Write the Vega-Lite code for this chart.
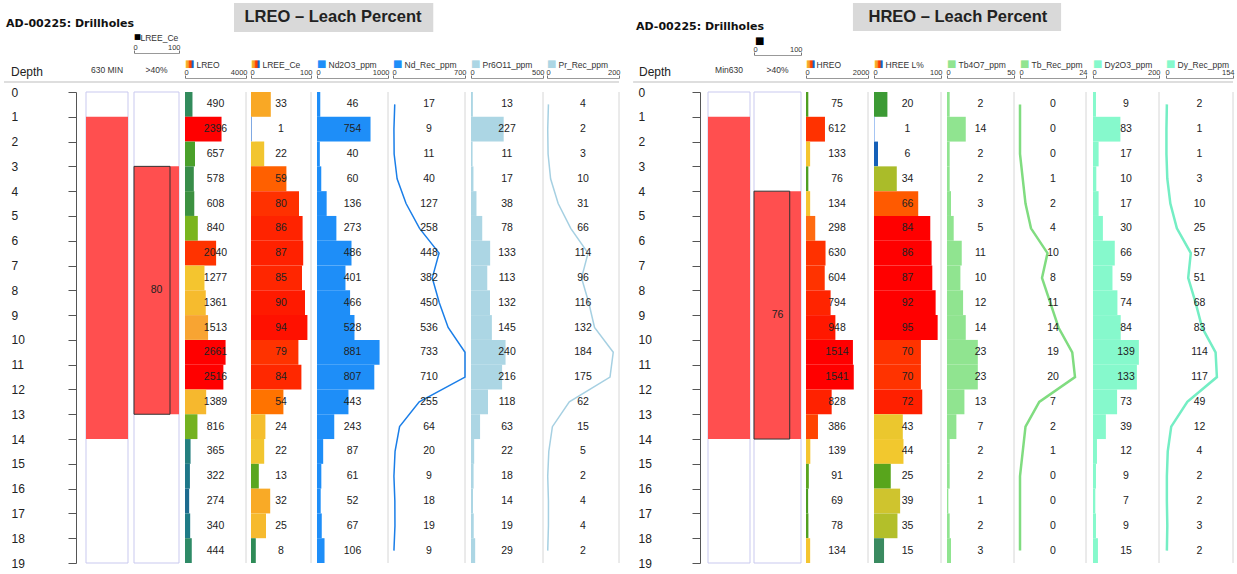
{
  "$schema": "https://vega.github.io/schema/vega-lite/v6.json",
  "padding": {"left": 3, "top": 3, "right": 5, "bottom": 5},
  "background": "white",
  "spacing": 0,
  "bounds": "flush",
  "resolve": {"scale": {"color": "independent"}},
  "config": {
    "view": {"stroke": null},
    "axisLeft": {"labelOverlap": false, "labelSeparation": 0},
    "axisTop": {
      "labelFlush": true, "labelFlushOffset": 1, "tickSize": 3, "tickColor": "#777", "domainColor": "#999",
      "labelPadding": -1, "labelFontSize": 7.5, "labelColor": "#333", "labelFont": "Liberation Sans", "grid": false,
      "titleFont": "Liberation Sans", "titleFontSize": 8.5, "titleFontWeight": "normal", "titleColor": "#333",
      "titleAnchor": "start", "titleAlign": "left", "titleBaseline": "middle"
    }
  },
  "datasets": {
    "lreo": [
      {"from": 0, "to": 1, "mid": 0.5, "LREO": 490, "LREE_Ce": 33, "Nd2O3_ppm": 46, "Nd_Rec_ppm": 17, "Pr6O11_ppm": 13, "Pr_Rec_ppm": 4},
      {"from": 1, "to": 2, "mid": 1.5, "LREO": 2396, "LREE_Ce": 1, "Nd2O3_ppm": 754, "Nd_Rec_ppm": 9, "Pr6O11_ppm": 227, "Pr_Rec_ppm": 2},
      {"from": 2, "to": 3, "mid": 2.5, "LREO": 657, "LREE_Ce": 22, "Nd2O3_ppm": 40, "Nd_Rec_ppm": 11, "Pr6O11_ppm": 11, "Pr_Rec_ppm": 3},
      {"from": 3, "to": 4, "mid": 3.5, "LREO": 578, "LREE_Ce": 59, "Nd2O3_ppm": 60, "Nd_Rec_ppm": 40, "Pr6O11_ppm": 17, "Pr_Rec_ppm": 10},
      {"from": 4, "to": 5, "mid": 4.5, "LREO": 608, "LREE_Ce": 80, "Nd2O3_ppm": 136, "Nd_Rec_ppm": 127, "Pr6O11_ppm": 38, "Pr_Rec_ppm": 31},
      {"from": 5, "to": 6, "mid": 5.5, "LREO": 840, "LREE_Ce": 86, "Nd2O3_ppm": 273, "Nd_Rec_ppm": 258, "Pr6O11_ppm": 78, "Pr_Rec_ppm": 66},
      {"from": 6, "to": 7, "mid": 6.5, "LREO": 2040, "LREE_Ce": 87, "Nd2O3_ppm": 486, "Nd_Rec_ppm": 448, "Pr6O11_ppm": 133, "Pr_Rec_ppm": 114},
      {"from": 7, "to": 8, "mid": 7.5, "LREO": 1277, "LREE_Ce": 85, "Nd2O3_ppm": 401, "Nd_Rec_ppm": 382, "Pr6O11_ppm": 113, "Pr_Rec_ppm": 96},
      {"from": 8, "to": 9, "mid": 8.5, "LREO": 1361, "LREE_Ce": 90, "Nd2O3_ppm": 466, "Nd_Rec_ppm": 450, "Pr6O11_ppm": 132, "Pr_Rec_ppm": 116},
      {"from": 9, "to": 10, "mid": 9.5, "LREO": 1513, "LREE_Ce": 94, "Nd2O3_ppm": 528, "Nd_Rec_ppm": 536, "Pr6O11_ppm": 145, "Pr_Rec_ppm": 132},
      {"from": 10, "to": 11, "mid": 10.5, "LREO": 2661, "LREE_Ce": 79, "Nd2O3_ppm": 881, "Nd_Rec_ppm": 733, "Pr6O11_ppm": 240, "Pr_Rec_ppm": 184},
      {"from": 11, "to": 12, "mid": 11.5, "LREO": 2516, "LREE_Ce": 84, "Nd2O3_ppm": 807, "Nd_Rec_ppm": 710, "Pr6O11_ppm": 216, "Pr_Rec_ppm": 175},
      {"from": 12, "to": 13, "mid": 12.5, "LREO": 1389, "LREE_Ce": 54, "Nd2O3_ppm": 443, "Nd_Rec_ppm": 255, "Pr6O11_ppm": 118, "Pr_Rec_ppm": 62},
      {"from": 13, "to": 14, "mid": 13.5, "LREO": 816, "LREE_Ce": 24, "Nd2O3_ppm": 243, "Nd_Rec_ppm": 64, "Pr6O11_ppm": 63, "Pr_Rec_ppm": 15},
      {"from": 14, "to": 15, "mid": 14.5, "LREO": 365, "LREE_Ce": 22, "Nd2O3_ppm": 87, "Nd_Rec_ppm": 20, "Pr6O11_ppm": 22, "Pr_Rec_ppm": 5},
      {"from": 15, "to": 16, "mid": 15.5, "LREO": 322, "LREE_Ce": 13, "Nd2O3_ppm": 61, "Nd_Rec_ppm": 9, "Pr6O11_ppm": 18, "Pr_Rec_ppm": 2},
      {"from": 16, "to": 17, "mid": 16.5, "LREO": 274, "LREE_Ce": 32, "Nd2O3_ppm": 52, "Nd_Rec_ppm": 18, "Pr6O11_ppm": 14, "Pr_Rec_ppm": 4},
      {"from": 17, "to": 18, "mid": 17.5, "LREO": 340, "LREE_Ce": 25, "Nd2O3_ppm": 67, "Nd_Rec_ppm": 19, "Pr6O11_ppm": 19, "Pr_Rec_ppm": 4},
      {"from": 18, "to": 19, "mid": 18.5, "LREO": 444, "LREE_Ce": 8, "Nd2O3_ppm": 106, "Nd_Rec_ppm": 9, "Pr6O11_ppm": 29, "Pr_Rec_ppm": 2}
    ],
    "hreo": [
      {"from": 0, "to": 1, "mid": 0.5, "HREO": 75, "HREE_L": 20, "Tb4O7_ppm": 2, "Tb_Rec_ppm": 0, "Dy2O3_ppm": 9, "Dy_Rec_ppm": 2},
      {"from": 1, "to": 2, "mid": 1.5, "HREO": 612, "HREE_L": 1, "Tb4O7_ppm": 14, "Tb_Rec_ppm": 0, "Dy2O3_ppm": 83, "Dy_Rec_ppm": 1},
      {"from": 2, "to": 3, "mid": 2.5, "HREO": 133, "HREE_L": 6, "Tb4O7_ppm": 2, "Tb_Rec_ppm": 0, "Dy2O3_ppm": 17, "Dy_Rec_ppm": 1},
      {"from": 3, "to": 4, "mid": 3.5, "HREO": 76, "HREE_L": 34, "Tb4O7_ppm": 2, "Tb_Rec_ppm": 1, "Dy2O3_ppm": 10, "Dy_Rec_ppm": 3},
      {"from": 4, "to": 5, "mid": 4.5, "HREO": 134, "HREE_L": 66, "Tb4O7_ppm": 3, "Tb_Rec_ppm": 2, "Dy2O3_ppm": 17, "Dy_Rec_ppm": 10},
      {"from": 5, "to": 6, "mid": 5.5, "HREO": 298, "HREE_L": 84, "Tb4O7_ppm": 5, "Tb_Rec_ppm": 4, "Dy2O3_ppm": 30, "Dy_Rec_ppm": 25},
      {"from": 6, "to": 7, "mid": 6.5, "HREO": 630, "HREE_L": 86, "Tb4O7_ppm": 11, "Tb_Rec_ppm": 10, "Dy2O3_ppm": 66, "Dy_Rec_ppm": 57},
      {"from": 7, "to": 8, "mid": 7.5, "HREO": 604, "HREE_L": 87, "Tb4O7_ppm": 10, "Tb_Rec_ppm": 8, "Dy2O3_ppm": 59, "Dy_Rec_ppm": 51},
      {"from": 8, "to": 9, "mid": 8.5, "HREO": 794, "HREE_L": 92, "Tb4O7_ppm": 12, "Tb_Rec_ppm": 11, "Dy2O3_ppm": 74, "Dy_Rec_ppm": 68},
      {"from": 9, "to": 10, "mid": 9.5, "HREO": 948, "HREE_L": 95, "Tb4O7_ppm": 14, "Tb_Rec_ppm": 14, "Dy2O3_ppm": 84, "Dy_Rec_ppm": 83},
      {"from": 10, "to": 11, "mid": 10.5, "HREO": 1514, "HREE_L": 70, "Tb4O7_ppm": 23, "Tb_Rec_ppm": 19, "Dy2O3_ppm": 139, "Dy_Rec_ppm": 114},
      {"from": 11, "to": 12, "mid": 11.5, "HREO": 1541, "HREE_L": 70, "Tb4O7_ppm": 23, "Tb_Rec_ppm": 20, "Dy2O3_ppm": 133, "Dy_Rec_ppm": 117},
      {"from": 12, "to": 13, "mid": 12.5, "HREO": 828, "HREE_L": 72, "Tb4O7_ppm": 13, "Tb_Rec_ppm": 7, "Dy2O3_ppm": 73, "Dy_Rec_ppm": 49},
      {"from": 13, "to": 14, "mid": 13.5, "HREO": 386, "HREE_L": 43, "Tb4O7_ppm": 7, "Tb_Rec_ppm": 2, "Dy2O3_ppm": 39, "Dy_Rec_ppm": 12},
      {"from": 14, "to": 15, "mid": 14.5, "HREO": 139, "HREE_L": 44, "Tb4O7_ppm": 2, "Tb_Rec_ppm": 1, "Dy2O3_ppm": 12, "Dy_Rec_ppm": 4},
      {"from": 15, "to": 16, "mid": 15.5, "HREO": 91, "HREE_L": 25, "Tb4O7_ppm": 2, "Tb_Rec_ppm": 0, "Dy2O3_ppm": 9, "Dy_Rec_ppm": 2},
      {"from": 16, "to": 17, "mid": 16.5, "HREO": 69, "HREE_L": 39, "Tb4O7_ppm": 1, "Tb_Rec_ppm": 0, "Dy2O3_ppm": 7, "Dy_Rec_ppm": 2},
      {"from": 17, "to": 18, "mid": 17.5, "HREO": 78, "HREE_L": 35, "Tb4O7_ppm": 2, "Tb_Rec_ppm": 0, "Dy2O3_ppm": 9, "Dy_Rec_ppm": 3},
      {"from": 18, "to": 19, "mid": 18.5, "HREO": 134, "HREE_L": 15, "Tb4O7_ppm": 3, "Tb_Rec_ppm": 0, "Dy2O3_ppm": 15, "Dy_Rec_ppm": 2}
    ],
    "minL": [{"from": 1, "to": 14}],
    "pctL": [{"from": 3, "to": 13, "mid": 8, "value": 80}],
    "minR": [{"from": 1, "to": 14}],
    "pctR": [{"from": 4, "to": 14, "mid": 9, "value": 76}]
  },
  "hconcat": [
    {
      "width": 82, "height": 471,
      "layer": [
        {"data": {"values": [{}]}, "mark": {"type": "rect", "color": "#d9d9d9"},
         "encoding": {
           "x": {"datum": 0.374, "type": "quantitative", "scale": {"domain": [0, 1], "range": [0, 615]}, "axis": null}, "x2": {"datum": 0.698},
           "y": {"datum": -3.59, "type": "quantitative", "scale": {"domain": [0, 19], "reverse": true},
                 "axis": {"orient": "left", "offset": -72, "values": [0,1,2,3,4,5,6,7,8,9,10,11,12,13,14,15,16,17,18,19], "tickSize": 8, "tickColor": "#555", "domainColor": "#555", "labelAlign": "left", "labelBaseline": "middle", "labelPadding": 57, "labelFont": "Liberation Sans", "labelFontSize": 12, "labelColor": "#222", "labelFlush": false, "labelOverlap": false, "labelSeparation": 0, "grid": false, "title": null}},
           "y2": {"datum": -2.42}}},
        {"data": {"values": [{}]}, "mark": {"type": "text", "text": "LREO – Leach Percent", "font": "Liberation Sans", "fontSize": 16.5, "fontWeight": "bold", "color": "#222", "baseline": "middle"},
         "encoding": {"x": {"datum": 0.535, "type": "quantitative", "scale": {"domain": [0, 1], "range": [0, 615]}, "axis": null},
                      "y": {"datum": -3.03, "type": "quantitative", "scale": {"domain": [0, 19], "reverse": true},
                            "axis": {"orient": "left", "offset": -72, "values": [0,1,2,3,4,5,6,7,8,9,10,11,12,13,14,15,16,17,18,19], "tickSize": 8, "tickColor": "#555", "domainColor": "#555", "labelAlign": "left", "labelBaseline": "middle", "labelPadding": 57, "labelFont": "Liberation Sans", "labelFontSize": 12, "labelColor": "#222", "labelFlush": false, "labelOverlap": false, "labelSeparation": 0, "grid": false, "title": null}}}},
        {"data": {"values": [{}]}, "mark": {"type": "text", "text": "AD-00225: Drillholes", "font": "DejaVu Sans", "fontSize": 11, "fontWeight": "bold", "color": "#111", "align": "left", "baseline": "middle"},
         "encoding": {"x": {"datum": 0.0033, "type": "quantitative", "scale": {"domain": [0, 1], "range": [0, 615]}, "axis": null},
                      "y": {"datum": -2.74, "type": "quantitative", "scale": {"domain": [0, 19], "reverse": true},
                            "axis": {"orient": "left", "offset": -72, "values": [0,1,2,3,4,5,6,7,8,9,10,11,12,13,14,15,16,17,18,19], "tickSize": 8, "tickColor": "#555", "domainColor": "#555", "labelAlign": "left", "labelBaseline": "middle", "labelPadding": 57, "labelFont": "Liberation Sans", "labelFontSize": 12, "labelColor": "#222", "labelFlush": false, "labelOverlap": false, "labelSeparation": 0, "grid": false, "title": null}}}},
        {"data": {"values": [{}]}, "mark": {"type": "rule", "color": "#bdbdbd", "strokeWidth": 1},
         "encoding": {"x": {"datum": 0, "type": "quantitative", "scale": {"domain": [0, 1], "range": [0, 615]}, "axis": null}, "x2": {"datum": 1},
                      "y": {"datum": -0.403, "type": "quantitative", "scale": {"domain": [0, 19], "reverse": true},
                            "axis": {"orient": "left", "offset": -72, "values": [0,1,2,3,4,5,6,7,8,9,10,11,12,13,14,15,16,17,18,19], "tickSize": 8, "tickColor": "#555", "domainColor": "#555", "labelAlign": "left", "labelBaseline": "middle", "labelPadding": 57, "labelFont": "Liberation Sans", "labelFontSize": 12, "labelColor": "#222", "labelFlush": false, "labelOverlap": false, "labelSeparation": 0, "grid": false, "title": null}}}},
        {"data": {"values": [{}]}, "mark": {"type": "text", "text": "Depth", "font": "Liberation Sans", "fontSize": 12, "color": "#222", "align": "left", "baseline": "middle"},
         "encoding": {"x": {"datum": 0.0114, "type": "quantitative", "scale": {"domain": [0, 1], "range": [0, 615]}, "axis": null},
                      "y": {"datum": -0.81, "type": "quantitative", "scale": {"domain": [0, 19], "reverse": true},
                            "axis": {"orient": "left", "offset": -72, "values": [0,1,2,3,4,5,6,7,8,9,10,11,12,13,14,15,16,17,18,19], "tickSize": 8, "tickColor": "#555", "domainColor": "#555", "labelAlign": "left", "labelBaseline": "middle", "labelPadding": 57, "labelFont": "Liberation Sans", "labelFontSize": 12, "labelColor": "#222", "labelFlush": false, "labelOverlap": false, "labelSeparation": 0, "grid": false, "title": null}}}}
      ]
    },
    {
      "width": 42, "height": 471,
      "layer": [
        {"data": {"values": [{}]}, "mark": {"type": "rect", "fill": "white", "stroke": "#c9c9ef", "strokeWidth": 1},
         "encoding": {"x": {"datum": 0, "type": "quantitative", "scale": {"domain": [0, 100], "range": [0, 42]}, "axis": null}, "x2": {"datum": 100},
                      "y": {"datum": 0, "type": "quantitative", "scale": {"domain": [0, 19], "reverse": true}, "axis": null}, "y2": {"datum": 19}}},
        {"data": {"name": "minL"}, "mark": {"type": "rect", "color": "#ff4f4f"},
         "encoding": {"x": {"datum": 0, "type": "quantitative", "scale": {"domain": [0, 100], "range": [0, 42]}, "axis": null}, "x2": {"datum": 100},
                      "y": {"field": "from", "type": "quantitative", "scale": {"domain": [0, 19], "reverse": true}, "axis": null}, "y2": {"field": "to"}}},
        {"data": {"values": [{}]}, "mark": {"type": "text", "text": "630 MIN", "font": "Liberation Sans", "fontSize": 8.5, "color": "#333", "baseline": "middle"},
         "encoding": {"x": {"datum": 50, "type": "quantitative", "scale": {"domain": [0, 100], "range": [0, 42]}, "axis": null},
                      "y": {"datum": -0.89, "type": "quantitative", "scale": {"domain": [0, 19], "reverse": true}, "axis": null}}}
      ]
    },
    {
      "width": 51, "height": 471,
      "layer": [
        {"data": {"values": [{}]}, "mark": {"type": "rect", "fill": "white", "stroke": "#c9c9ef", "strokeWidth": 1},
         "encoding": {"x": {"datum": 0, "type": "quantitative", "scale": {"domain": [0, 100], "range": [6, 51]},
                            "axis": {"orient": "top", "offset": 39, "values": [0, 100], "format": "d", "grid": false, "title": "LREE_Ce", "titleX": 12, "titleY": -16}},
                      "x2": {"datum": 100},
                      "y": {"datum": 0, "type": "quantitative", "scale": {"domain": [0, 19], "reverse": true}, "axis": null}, "y2": {"datum": 19}}},
        {"data": {"name": "pctL"}, "mark": {"type": "rect", "color": "#ff4f4f"},
         "encoding": {"x": {"datum": 0, "type": "quantitative", "scale": {"domain": [0, 100], "range": [6, 51]}}, "x2": {"datum": 100},
                      "y": {"field": "from", "type": "quantitative", "scale": {"domain": [0, 19], "reverse": true}, "axis": null}, "y2": {"field": "to"}}},
        {"data": {"name": "pctL"}, "mark": {"type": "rect", "fill": "transparent", "stroke": "#333", "strokeWidth": 1},
         "encoding": {"x": {"field": "value", "type": "quantitative", "scale": {"domain": [0, 100], "range": [6, 51]}}, "x2": {"datum": 0},
                      "y": {"field": "from", "type": "quantitative", "scale": {"domain": [0, 19], "reverse": true}, "axis": null}, "y2": {"field": "to"}}},
        {"data": {"name": "pctL"}, "mark": {"type": "text", "font": "Liberation Sans", "fontSize": 10.5, "color": "#222", "baseline": "middle"},
         "encoding": {"x": {"datum": 50, "type": "quantitative", "scale": {"domain": [0, 100], "range": [6, 51]}},
                      "y": {"field": "mid", "type": "quantitative", "scale": {"domain": [0, 19], "reverse": true}, "axis": null}, "text": {"field": "value"}}},
        {"data": {"values": [{}]}, "mark": {"type": "text", "text": ">40%", "font": "Liberation Sans", "fontSize": 8.5, "color": "#333", "baseline": "middle"},
         "encoding": {"x": {"datum": 50, "type": "quantitative", "scale": {"domain": [0, 100], "range": [6, 51]}},
                      "y": {"datum": -0.89, "type": "quantitative", "scale": {"domain": [0, 19], "reverse": true}, "axis": null}}},
        {"data": {"values": [{}]}, "mark": {"type": "text", "text": "■", "font": "DejaVu Sans", "fontSize": 7.5, "color": "#000", "align": "left", "baseline": "middle"},
         "encoding": {"x": {"datum": 0, "type": "quantitative", "scale": {"domain": [0, 100], "range": [6, 51]}},
                      "y": {"datum": -2.2, "type": "quantitative", "scale": {"domain": [0, 19], "reverse": true}, "axis": null}}}
      ]
    },
    {
      "width": 67, "height": 471,
      "layer": [
        {"data": {"values": [{}]}, "mark": {"type": "rule", "color": "#d6d6d6"},
         "encoding": {"x": {"datum": 4000, "type": "quantitative", "scale": {"domain": [0, 4000], "range": [6, 67]},
                            "axis": {"orient": "top", "offset": 14, "values": [0, 4000], "format": "d", "grid": false, "title": "LREO", "titleX": 17, "titleY": -14}},
                      "y": {"datum": 0, "type": "quantitative", "scale": {"domain": [0, 19], "reverse": true}, "axis": null}, "y2": {"datum": 19}}},
        {"data": {"name": "lreo"}, "mark": {"type": "rect"},
         "encoding": {"x": {"field": "LREO", "type": "quantitative", "scale": {"domain": [0, 4000], "range": [6, 67]}}, "x2": {"datum": 0},
                      "y": {"field": "from", "type": "quantitative", "scale": {"domain": [0, 19], "reverse": true}, "axis": null}, "y2": {"field": "to"},
                      "color": {"field": "LREO", "type": "quantitative", "legend": null,
                                "scale": {"type": "linear", "interpolate": "rgb", "domain": [274, 340, 444, 600, 657, 840, 1277, 1389, 1513, 2040], "range": ["#1d6b8e", "#1f7b86", "#2e8a66", "#3a8e44", "#4aa02a", "#7ab51e", "#f4c52f", "#f6b82e", "#f8a432", "#ff3300"]}}}},
        {"data": {"name": "lreo"}, "mark": {"type": "text", "font": "Liberation Sans", "fontSize": 10.5, "color": "#222", "baseline": "middle"},
         "encoding": {"x": {"datum": 2000, "type": "quantitative", "scale": {"domain": [0, 4000], "range": [6, 67]}},
                      "y": {"field": "mid", "type": "quantitative", "scale": {"domain": [0, 19], "reverse": true}, "axis": null}, "text": {"field": "LREO"}}},
        {"data": {"values": [{}]}, "mark": {"type": "text", "text": "■", "font": "DejaVu Sans", "fontSize": 10, "align": "left", "baseline": "middle",
                                           "fill": {"gradient": "linear", "x1": 0, "y1": 0, "x2": 1, "y2": 0, "stops": [{"offset": 0, "color": "#f6c02c"}, {"offset": 0.35, "color": "#f89a2c"}, {"offset": 0.5, "color": "#ff3d00"}, {"offset": 0.68, "color": "#ff3d00"}, {"offset": 0.7, "color": "#1f5fc0"}, {"offset": 1, "color": "#1f5fc0"}]}},
         "encoding": {"x": {"datum": 0, "type": "quantitative", "scale": {"domain": [0, 4000], "range": [6, 67]}},
                      "y": {"datum": -1.13, "type": "quantitative", "scale": {"domain": [0, 19], "reverse": true}, "axis": null}}}
      ]
    },
    {
      "width": 65, "height": 471,
      "layer": [
        {"data": {"values": [{}]}, "mark": {"type": "rule", "color": "#d6d6d6"},
         "encoding": {"x": {"datum": 100, "type": "quantitative", "scale": {"domain": [0, 100], "range": [5, 65]},
                            "axis": {"orient": "top", "offset": 14, "values": [0, 100], "format": "d", "grid": false, "title": "LREE_Ce", "titleX": 16, "titleY": -14}},
                      "y": {"datum": 0, "type": "quantitative", "scale": {"domain": [0, 19], "reverse": true}, "axis": null}, "y2": {"datum": 19}}},
        {"data": {"name": "lreo"}, "mark": {"type": "rect"},
         "encoding": {"x": {"field": "LREE_Ce", "type": "quantitative", "scale": {"domain": [0, 100], "range": [5, 65]}}, "x2": {"datum": 0},
                      "y": {"field": "from", "type": "quantitative", "scale": {"domain": [0, 19], "reverse": true}, "axis": null}, "y2": {"field": "to"},
                      "color": {"field": "LREE_Ce", "type": "quantitative", "legend": null,
                                "scale": {"type": "linear", "interpolate": "rgb", "domain": [1, 8, 13, 22, 25, 33, 54, 59, 79], "range": ["#2a6fd0", "#2e8b57", "#5aa61f", "#f2c52f", "#f6ba2e", "#f9a825", "#ff7300", "#ff6000", "#ff3300"]}}}},
        {"data": {"name": "lreo"}, "mark": {"type": "text", "font": "Liberation Sans", "fontSize": 10.5, "color": "#222", "baseline": "middle"},
         "encoding": {"x": {"datum": 50, "type": "quantitative", "scale": {"domain": [0, 100], "range": [5, 65]}},
                      "y": {"field": "mid", "type": "quantitative", "scale": {"domain": [0, 19], "reverse": true}, "axis": null}, "text": {"field": "LREE_Ce"}}},
        {"data": {"values": [{}]}, "mark": {"type": "text", "text": "■", "font": "DejaVu Sans", "fontSize": 10, "align": "left", "baseline": "middle",
                                           "fill": {"gradient": "linear", "x1": 0, "y1": 0, "x2": 1, "y2": 0, "stops": [{"offset": 0, "color": "#f6c02c"}, {"offset": 0.35, "color": "#f89a2c"}, {"offset": 0.5, "color": "#ff3d00"}, {"offset": 0.68, "color": "#ff3d00"}, {"offset": 0.7, "color": "#1f5fc0"}, {"offset": 1, "color": "#1f5fc0"}]}},
         "encoding": {"x": {"datum": 0, "type": "quantitative", "scale": {"domain": [0, 100], "range": [5, 65]}},
                      "y": {"datum": -1.13, "type": "quantitative", "scale": {"domain": [0, 19], "reverse": true}, "axis": null}}}
      ]
    },
    {
      "width": 77, "height": 471,
      "layer": [
        {"data": {"values": [{}]}, "mark": {"type": "rule", "color": "#d6d6d6"},
         "encoding": {"x": {"datum": 1000, "type": "quantitative", "scale": {"domain": [0, 1000], "range": [6, 77]},
                            "axis": {"orient": "top", "offset": 14, "values": [0, 1000], "format": "d", "grid": false, "title": "Nd2O3_ppm", "titleX": 17, "titleY": -14}},
                      "y": {"datum": 0, "type": "quantitative", "scale": {"domain": [0, 19], "reverse": true}, "axis": null}, "y2": {"datum": 19}}},
        {"data": {"name": "lreo"}, "mark": {"type": "rect", "color": "#1e8ef8"},
         "encoding": {"x": {"field": "Nd2O3_ppm", "type": "quantitative", "scale": {"domain": [0, 1000], "range": [6, 77]}}, "x2": {"datum": 0},
                      "y": {"field": "from", "type": "quantitative", "scale": {"domain": [0, 19], "reverse": true}, "axis": null}, "y2": {"field": "to"}}},
        {"data": {"name": "lreo"}, "mark": {"type": "text", "font": "Liberation Sans", "fontSize": 10.5, "color": "#222", "baseline": "middle"},
         "encoding": {"x": {"datum": 500, "type": "quantitative", "scale": {"domain": [0, 1000], "range": [6, 77]}},
                      "y": {"field": "mid", "type": "quantitative", "scale": {"domain": [0, 19], "reverse": true}, "axis": null}, "text": {"field": "Nd2O3_ppm"}}},
        {"data": {"values": [{}]}, "mark": {"type": "text", "text": "■", "font": "DejaVu Sans", "fontSize": 10, "align": "left", "baseline": "middle", "color": "#1e8ef8"},
         "encoding": {"x": {"datum": 0, "type": "quantitative", "scale": {"domain": [0, 1000], "range": [6, 77]}},
                      "y": {"datum": -1.13, "type": "quantitative", "scale": {"domain": [0, 19], "reverse": true}, "axis": null}}}
      ]
    },
    {
      "width": 77, "height": 471,
      "layer": [
        {"data": {"values": [{}]}, "mark": {"type": "rule", "color": "#d6d6d6"},
         "encoding": {"x": {"datum": 700, "type": "quantitative", "scale": {"domain": [0, 700], "range": [5, 77], "clamp": true},
                            "axis": {"orient": "top", "offset": 14, "values": [0, 700], "format": "d", "grid": false, "title": "Nd_Rec_ppm", "titleX": 16, "titleY": -14}},
                      "y": {"datum": 0, "type": "quantitative", "scale": {"domain": [0, 19], "reverse": true}, "axis": null}, "y2": {"datum": 19}}},
        {"data": {"name": "lreo"}, "mark": {"type": "line", "color": "#1a7ee8", "strokeWidth": 1.5},
         "encoding": {"x": {"field": "Nd_Rec_ppm", "type": "quantitative", "scale": {"domain": [0, 700], "range": [5, 77], "clamp": true}},
                      "y": {"field": "mid", "type": "quantitative", "scale": {"domain": [0, 19], "reverse": true}, "axis": null},
                      "order": {"field": "mid", "type": "quantitative"}}},
        {"data": {"name": "lreo"}, "mark": {"type": "text", "font": "Liberation Sans", "fontSize": 10.5, "color": "#222", "baseline": "middle"},
         "encoding": {"x": {"datum": 350, "type": "quantitative", "scale": {"domain": [0, 700], "range": [5, 77], "clamp": true}},
                      "y": {"field": "mid", "type": "quantitative", "scale": {"domain": [0, 19], "reverse": true}, "axis": null}, "text": {"field": "Nd_Rec_ppm"}}},
        {"data": {"values": [{}]}, "mark": {"type": "text", "text": "■", "font": "DejaVu Sans", "fontSize": 10, "align": "left", "baseline": "middle", "color": "#1e8ef8"},
         "encoding": {"x": {"datum": 0, "type": "quantitative", "scale": {"domain": [0, 700], "range": [5, 77], "clamp": true}},
                      "y": {"datum": -1.13, "type": "quantitative", "scale": {"domain": [0, 19], "reverse": true}, "axis": null}}}
      ]
    },
    {
      "width": 78, "height": 471,
      "layer": [
        {"data": {"values": [{}]}, "mark": {"type": "rule", "color": "#d6d6d6"},
         "encoding": {"x": {"datum": 500, "type": "quantitative", "scale": {"domain": [0, 500], "range": [6, 78]},
                            "axis": {"orient": "top", "offset": 14, "values": [0, 500], "format": "d", "grid": false, "title": "Pr6O11_ppm", "titleX": 17, "titleY": -14}},
                      "y": {"datum": 0, "type": "quantitative", "scale": {"domain": [0, 19], "reverse": true}, "axis": null}, "y2": {"datum": 19}}},
        {"data": {"name": "lreo"}, "mark": {"type": "rect", "color": "#acd6e4"},
         "encoding": {"x": {"field": "Pr6O11_ppm", "type": "quantitative", "scale": {"domain": [0, 500], "range": [6, 78]}}, "x2": {"datum": 0},
                      "y": {"field": "from", "type": "quantitative", "scale": {"domain": [0, 19], "reverse": true}, "axis": null}, "y2": {"field": "to"}}},
        {"data": {"name": "lreo"}, "mark": {"type": "text", "font": "Liberation Sans", "fontSize": 10.5, "color": "#222", "baseline": "middle"},
         "encoding": {"x": {"datum": 250, "type": "quantitative", "scale": {"domain": [0, 500], "range": [6, 78]}},
                      "y": {"field": "mid", "type": "quantitative", "scale": {"domain": [0, 19], "reverse": true}, "axis": null}, "text": {"field": "Pr6O11_ppm"}}},
        {"data": {"values": [{}]}, "mark": {"type": "text", "text": "■", "font": "DejaVu Sans", "fontSize": 10, "align": "left", "baseline": "middle", "color": "#acd6e4"},
         "encoding": {"x": {"datum": 0, "type": "quantitative", "scale": {"domain": [0, 500], "range": [6, 78]}},
                      "y": {"datum": -1.13, "type": "quantitative", "scale": {"domain": [0, 19], "reverse": true}, "axis": null}}}
      ]
    },
    {
      "width": 76, "height": 471,
      "layer": [
        {"data": {"values": [{}]}, "mark": {"type": "rule", "color": "#d6d6d6"},
         "encoding": {"x": {"datum": 200, "type": "quantitative", "scale": {"domain": [0, 200], "range": [4, 76], "clamp": true},
                            "axis": {"orient": "top", "offset": 14, "values": [0, 200], "format": "d", "grid": false, "title": "Pr_Rec_ppm", "titleX": 15, "titleY": -14}},
                      "y": {"datum": 0, "type": "quantitative", "scale": {"domain": [0, 19], "reverse": true}, "axis": null}, "y2": {"datum": 19}}},
        {"data": {"name": "lreo"}, "mark": {"type": "line", "color": "#a6d0e2", "strokeWidth": 1.5},
         "encoding": {"x": {"field": "Pr_Rec_ppm", "type": "quantitative", "scale": {"domain": [0, 200], "range": [4, 76], "clamp": true}},
                      "y": {"field": "mid", "type": "quantitative", "scale": {"domain": [0, 19], "reverse": true}, "axis": null},
                      "order": {"field": "mid", "type": "quantitative"}}},
        {"data": {"name": "lreo"}, "mark": {"type": "text", "font": "Liberation Sans", "fontSize": 10.5, "color": "#222", "baseline": "middle"},
         "encoding": {"x": {"datum": 100, "type": "quantitative", "scale": {"domain": [0, 200], "range": [4, 76], "clamp": true}},
                      "y": {"field": "mid", "type": "quantitative", "scale": {"domain": [0, 19], "reverse": true}, "axis": null}, "text": {"field": "Pr_Rec_ppm"}}},
        {"data": {"values": [{}]}, "mark": {"type": "text", "text": "■", "font": "DejaVu Sans", "fontSize": 10, "align": "left", "baseline": "middle", "color": "#acd6e4"},
         "encoding": {"x": {"datum": 0, "type": "quantitative", "scale": {"domain": [0, 200], "range": [4, 76], "clamp": true}},
                      "y": {"datum": -1.13, "type": "quantitative", "scale": {"domain": [0, 19], "reverse": true}, "axis": null}}}
      ]
    },
    {
      "width": 89, "height": 471,
      "layer": [
        {"data": {"values": [{}]}, "mark": {"type": "rect", "color": "#d9d9d9"},
         "encoding": {
           "x": {"datum": 0.381, "type": "quantitative", "scale": {"domain": [0, 1], "range": [0, 614]}, "axis": null}, "x2": {"datum": 0.72},
           "y": {"datum": -3.59, "type": "quantitative", "scale": {"domain": [0, 19], "reverse": true},
                 "axis": {"orient": "left", "offset": -81, "values": [0,1,2,3,4,5,6,7,8,9,10,11,12,13,14,15,16,17,18,19], "tickSize": 8, "tickColor": "#555", "domainColor": "#555", "labelAlign": "left", "labelBaseline": "middle", "labelPadding": 54, "labelFont": "Liberation Sans", "labelFontSize": 12, "labelColor": "#222", "labelFlush": false, "labelOverlap": false, "labelSeparation": 0, "grid": false, "title": null}},
           "y2": {"datum": -2.46}}},
        {"data": {"values": [{}]}, "mark": {"type": "text", "text": "HREO – Leach Percent", "font": "Liberation Sans", "fontSize": 16.5, "fontWeight": "bold", "color": "#222", "baseline": "middle"},
         "encoding": {"x": {"datum": 0.552, "type": "quantitative", "scale": {"domain": [0, 1], "range": [0, 614]}, "axis": null},
                      "y": {"datum": -3.03, "type": "quantitative", "scale": {"domain": [0, 19], "reverse": true},
                            "axis": {"orient": "left", "offset": -81, "values": [0,1,2,3,4,5,6,7,8,9,10,11,12,13,14,15,16,17,18,19], "tickSize": 8, "tickColor": "#555", "domainColor": "#555", "labelAlign": "left", "labelBaseline": "middle", "labelPadding": 54, "labelFont": "Liberation Sans", "labelFontSize": 12, "labelColor": "#222", "labelFlush": false, "labelOverlap": false, "labelSeparation": 0, "grid": false, "title": null}}}},
        {"data": {"values": [{}]}, "mark": {"type": "text", "text": "AD-00225: Drillholes", "font": "DejaVu Sans", "fontSize": 11, "fontWeight": "bold", "color": "#111", "align": "left", "baseline": "middle"},
         "encoding": {"x": {"datum": 0.0277, "type": "quantitative", "scale": {"domain": [0, 1], "range": [0, 614]}, "axis": null},
                      "y": {"datum": -2.62, "type": "quantitative", "scale": {"domain": [0, 19], "reverse": true},
                            "axis": {"orient": "left", "offset": -81, "values": [0,1,2,3,4,5,6,7,8,9,10,11,12,13,14,15,16,17,18,19], "tickSize": 8, "tickColor": "#555", "domainColor": "#555", "labelAlign": "left", "labelBaseline": "middle", "labelPadding": 54, "labelFont": "Liberation Sans", "labelFontSize": 12, "labelColor": "#222", "labelFlush": false, "labelOverlap": false, "labelSeparation": 0, "grid": false, "title": null}}}},
        {"data": {"values": [{}]}, "mark": {"type": "rule", "color": "#bdbdbd", "strokeWidth": 1},
         "encoding": {"x": {"datum": 0.023, "type": "quantitative", "scale": {"domain": [0, 1], "range": [0, 614]}, "axis": null}, "x2": {"datum": 1},
                      "y": {"datum": -0.403, "type": "quantitative", "scale": {"domain": [0, 19], "reverse": true},
                            "axis": {"orient": "left", "offset": -81, "values": [0,1,2,3,4,5,6,7,8,9,10,11,12,13,14,15,16,17,18,19], "tickSize": 8, "tickColor": "#555", "domainColor": "#555", "labelAlign": "left", "labelBaseline": "middle", "labelPadding": 54, "labelFont": "Liberation Sans", "labelFontSize": 12, "labelColor": "#222", "labelFlush": false, "labelOverlap": false, "labelSeparation": 0, "grid": false, "title": null}}}},
        {"data": {"values": [{}]}, "mark": {"type": "text", "text": "Depth", "font": "Liberation Sans", "fontSize": 12, "color": "#222", "align": "left", "baseline": "middle"},
         "encoding": {"x": {"datum": 0.0326, "type": "quantitative", "scale": {"domain": [0, 1], "range": [0, 614]}, "axis": null},
                      "y": {"datum": -0.81, "type": "quantitative", "scale": {"domain": [0, 19], "reverse": true},
                            "axis": {"orient": "left", "offset": -81, "values": [0,1,2,3,4,5,6,7,8,9,10,11,12,13,14,15,16,17,18,19], "tickSize": 8, "tickColor": "#555", "domainColor": "#555", "labelAlign": "left", "labelBaseline": "middle", "labelPadding": 54, "labelFont": "Liberation Sans", "labelFontSize": 12, "labelColor": "#222", "labelFlush": false, "labelOverlap": false, "labelSeparation": 0, "grid": false, "title": null}}}}
      ]
    },
    {
      "width": 42, "height": 471,
      "layer": [
        {"data": {"values": [{}]}, "mark": {"type": "rect", "fill": "white", "stroke": "#c9c9ef", "strokeWidth": 1},
         "encoding": {"x": {"datum": 0, "type": "quantitative", "scale": {"domain": [0, 100], "range": [0, 42]}, "axis": null}, "x2": {"datum": 100},
                      "y": {"datum": 0, "type": "quantitative", "scale": {"domain": [0, 19], "reverse": true}, "axis": null}, "y2": {"datum": 19}}},
        {"data": {"name": "minR"}, "mark": {"type": "rect", "color": "#ff4f4f"},
         "encoding": {"x": {"datum": 0, "type": "quantitative", "scale": {"domain": [0, 100], "range": [0, 42]}, "axis": null}, "x2": {"datum": 100},
                      "y": {"field": "from", "type": "quantitative", "scale": {"domain": [0, 19], "reverse": true}, "axis": null}, "y2": {"field": "to"}}},
        {"data": {"values": [{}]}, "mark": {"type": "text", "text": "Min630", "font": "Liberation Sans", "fontSize": 8.5, "color": "#333", "baseline": "middle"},
         "encoding": {"x": {"datum": 50, "type": "quantitative", "scale": {"domain": [0, 100], "range": [0, 42]}, "axis": null},
                      "y": {"datum": -0.89, "type": "quantitative", "scale": {"domain": [0, 19], "reverse": true}, "axis": null}}}
      ]
    },
    {
      "width": 51, "height": 471,
      "layer": [
        {"data": {"values": [{}]}, "mark": {"type": "rect", "fill": "white", "stroke": "#c9c9ef", "strokeWidth": 1},
         "encoding": {"x": {"datum": 0, "type": "quantitative", "scale": {"domain": [0, 100], "range": [4, 51]},
                            "axis": {"orient": "top", "offset": 37, "values": [0, 100], "format": "d", "grid": false, "title": null}},
                      "x2": {"datum": 100},
                      "y": {"datum": 0, "type": "quantitative", "scale": {"domain": [0, 19], "reverse": true}, "axis": null}, "y2": {"datum": 19}}},
        {"data": {"name": "pctR"}, "mark": {"type": "rect", "color": "#ff4f4f"},
         "encoding": {"x": {"datum": 0, "type": "quantitative", "scale": {"domain": [0, 100], "range": [4, 51]}}, "x2": {"datum": 100},
                      "y": {"field": "from", "type": "quantitative", "scale": {"domain": [0, 19], "reverse": true}, "axis": null}, "y2": {"field": "to"}}},
        {"data": {"name": "pctR"}, "mark": {"type": "rect", "fill": "transparent", "stroke": "#333", "strokeWidth": 1},
         "encoding": {"x": {"field": "value", "type": "quantitative", "scale": {"domain": [0, 100], "range": [4, 51]}}, "x2": {"datum": 0},
                      "y": {"field": "from", "type": "quantitative", "scale": {"domain": [0, 19], "reverse": true}, "axis": null}, "y2": {"field": "to"}}},
        {"data": {"name": "pctR"}, "mark": {"type": "text", "font": "Liberation Sans", "fontSize": 10.5, "color": "#222", "baseline": "middle"},
         "encoding": {"x": {"datum": 50, "type": "quantitative", "scale": {"domain": [0, 100], "range": [4, 51]}},
                      "y": {"field": "mid", "type": "quantitative", "scale": {"domain": [0, 19], "reverse": true}, "axis": null}, "text": {"field": "value"}}},
        {"data": {"values": [{}]}, "mark": {"type": "text", "text": ">40%", "font": "Liberation Sans", "fontSize": 8.5, "color": "#333", "baseline": "middle"},
         "encoding": {"x": {"datum": 50, "type": "quantitative", "scale": {"domain": [0, 100], "range": [4, 51]}},
                      "y": {"datum": -0.89, "type": "quantitative", "scale": {"domain": [0, 19], "reverse": true}, "axis": null}}},
        {"data": {"values": [{}]}, "mark": {"type": "text", "text": "■", "font": "DejaVu Sans", "fontSize": 10, "color": "#000", "align": "left", "baseline": "middle", "dx": 1},
         "encoding": {"x": {"datum": 0, "type": "quantitative", "scale": {"domain": [0, 100], "range": [4, 51]}},
                      "y": {"datum": -2.06, "type": "quantitative", "scale": {"domain": [0, 19], "reverse": true}, "axis": null}}}
      ]
    },
    {
      "width": 67, "height": 471,
      "layer": [
        {"data": {"values": [{}]}, "mark": {"type": "rule", "color": "#d6d6d6"},
         "encoding": {"x": {"datum": 2000, "type": "quantitative", "scale": {"domain": [0, 2000], "range": [5, 67]},
                            "axis": {"orient": "top", "offset": 14, "values": [0, 2000], "format": "d", "grid": false, "title": "HREO", "titleX": 15, "titleY": -14}},
                      "y": {"datum": 0, "type": "quantitative", "scale": {"domain": [0, 19], "reverse": true}, "axis": null}, "y2": {"datum": 19}}},
        {"data": {"name": "hreo"}, "mark": {"type": "rect"},
         "encoding": {"x": {"field": "HREO", "type": "quantitative", "scale": {"domain": [0, 2000], "range": [5, 67]}}, "x2": {"datum": 0},
                      "y": {"field": "from", "type": "quantitative", "scale": {"domain": [0, 19], "reverse": true}, "axis": null}, "y2": {"field": "to"},
                      "color": {"field": "HREO", "type": "quantitative", "legend": null,
                                "scale": {"type": "linear", "interpolate": "rgb", "domain": [69, 91, 133, 139, 298, 386, 604], "range": ["#4a9c22", "#5aa41e", "#f4c430", "#f4c430", "#ff6a10", "#ff4400", "#ff3300"]}}}},
        {"data": {"name": "hreo"}, "mark": {"type": "text", "font": "Liberation Sans", "fontSize": 10.5, "color": "#222", "baseline": "middle"},
         "encoding": {"x": {"datum": 1000, "type": "quantitative", "scale": {"domain": [0, 2000], "range": [5, 67]}},
                      "y": {"field": "mid", "type": "quantitative", "scale": {"domain": [0, 19], "reverse": true}, "axis": null}, "text": {"field": "HREO"}}},
        {"data": {"values": [{}]}, "mark": {"type": "text", "text": "■", "font": "DejaVu Sans", "fontSize": 10, "align": "left", "baseline": "middle",
                                           "fill": {"gradient": "linear", "x1": 0, "y1": 0, "x2": 1, "y2": 0, "stops": [{"offset": 0, "color": "#f6c02c"}, {"offset": 0.35, "color": "#f89a2c"}, {"offset": 0.5, "color": "#ff3d00"}, {"offset": 0.68, "color": "#ff3d00"}, {"offset": 0.7, "color": "#1f5fc0"}, {"offset": 1, "color": "#1f5fc0"}]}},
         "encoding": {"x": {"datum": 0, "type": "quantitative", "scale": {"domain": [0, 2000], "range": [5, 67]}},
                      "y": {"datum": -1.13, "type": "quantitative", "scale": {"domain": [0, 19], "reverse": true}, "axis": null}}}
      ]
    },
    {
      "width": 73, "height": 471,
      "layer": [
        {"data": {"values": [{}]}, "mark": {"type": "rule", "color": "#d6d6d6"},
         "encoding": {"x": {"datum": 100, "type": "quantitative", "scale": {"domain": [0, 100], "range": [6, 73]},
                            "axis": {"orient": "top", "offset": 14, "values": [0, 100], "format": "d", "grid": false, "title": "HREE L%", "titleX": 17, "titleY": -14}},
                      "y": {"datum": 0, "type": "quantitative", "scale": {"domain": [0, 19], "reverse": true}, "axis": null}, "y2": {"datum": 19}}},
        {"data": {"name": "hreo"}, "mark": {"type": "rect"},
         "encoding": {"x": {"field": "HREE_L", "type": "quantitative", "scale": {"domain": [0, 100], "range": [6, 73]}}, "x2": {"datum": 0},
                      "y": {"field": "from", "type": "quantitative", "scale": {"domain": [0, 19], "reverse": true}, "axis": null}, "y2": {"field": "to"},
                      "color": {"field": "HREE_L", "type": "quantitative", "legend": null,
                                "scale": {"type": "linear", "interpolate": "rgb", "domain": [1, 6, 15, 20, 25, 35, 39, 44, 66, 70], "range": ["#7aa8ee", "#1560b8", "#3a8a60", "#3c9a34", "#58a51c", "#b3bf2a", "#cfc42e", "#f2c82e", "#ff5a00", "#ff3300"]}}}},
        {"data": {"name": "hreo"}, "mark": {"type": "text", "font": "Liberation Sans", "fontSize": 10.5, "color": "#222", "baseline": "middle"},
         "encoding": {"x": {"datum": 50, "type": "quantitative", "scale": {"domain": [0, 100], "range": [6, 73]}},
                      "y": {"field": "mid", "type": "quantitative", "scale": {"domain": [0, 19], "reverse": true}, "axis": null}, "text": {"field": "HREE_L"}}},
        {"data": {"values": [{}]}, "mark": {"type": "text", "text": "■", "font": "DejaVu Sans", "fontSize": 10, "align": "left", "baseline": "middle",
                                           "fill": {"gradient": "linear", "x1": 0, "y1": 0, "x2": 1, "y2": 0, "stops": [{"offset": 0, "color": "#f6c02c"}, {"offset": 0.35, "color": "#f89a2c"}, {"offset": 0.5, "color": "#ff3d00"}, {"offset": 0.68, "color": "#ff3d00"}, {"offset": 0.7, "color": "#1f5fc0"}, {"offset": 1, "color": "#1f5fc0"}]}},
         "encoding": {"x": {"datum": 0, "type": "quantitative", "scale": {"domain": [0, 100], "range": [6, 73]}},
                      "y": {"datum": -1.13, "type": "quantitative", "scale": {"domain": [0, 19], "reverse": true}, "axis": null}}}
      ]
    },
    {
      "width": 73, "height": 471,
      "layer": [
        {"data": {"values": [{}]}, "mark": {"type": "rule", "color": "#d6d6d6"},
         "encoding": {"x": {"datum": 50, "type": "quantitative", "scale": {"domain": [0, 50], "range": [6, 73]},
                            "axis": {"orient": "top", "offset": 14, "values": [0, 50], "format": "d", "grid": false, "title": "Tb4O7_ppm", "titleX": 17, "titleY": -14}},
                      "y": {"datum": 0, "type": "quantitative", "scale": {"domain": [0, 19], "reverse": true}, "axis": null}, "y2": {"datum": 19}}},
        {"data": {"name": "hreo"}, "mark": {"type": "rect", "color": "#90e490"},
         "encoding": {"x": {"field": "Tb4O7_ppm", "type": "quantitative", "scale": {"domain": [0, 50], "range": [6, 73]}}, "x2": {"datum": 0},
                      "y": {"field": "from", "type": "quantitative", "scale": {"domain": [0, 19], "reverse": true}, "axis": null}, "y2": {"field": "to"}}},
        {"data": {"name": "hreo"}, "mark": {"type": "text", "font": "Liberation Sans", "fontSize": 10.5, "color": "#222", "baseline": "middle"},
         "encoding": {"x": {"datum": 25, "type": "quantitative", "scale": {"domain": [0, 50], "range": [6, 73]}},
                      "y": {"field": "mid", "type": "quantitative", "scale": {"domain": [0, 19], "reverse": true}, "axis": null}, "text": {"field": "Tb4O7_ppm"}}},
        {"data": {"values": [{}]}, "mark": {"type": "text", "text": "■", "font": "DejaVu Sans", "fontSize": 10, "align": "left", "baseline": "middle", "color": "#90e490"},
         "encoding": {"x": {"datum": 0, "type": "quantitative", "scale": {"domain": [0, 50], "range": [6, 73]}},
                      "y": {"datum": -1.13, "type": "quantitative", "scale": {"domain": [0, 19], "reverse": true}, "axis": null}}}
      ]
    },
    {
      "width": 72, "height": 471,
      "layer": [
        {"data": {"values": [{}]}, "mark": {"type": "rule", "color": "#d6d6d6"},
         "encoding": {"x": {"datum": 24, "type": "quantitative", "scale": {"domain": [0, 24], "range": [6, 72], "clamp": true},
                            "axis": {"orient": "top", "offset": 14, "values": [0, 24], "format": "d", "grid": false, "title": "Tb_Rec_ppm", "titleX": 17, "titleY": -14}},
                      "y": {"datum": 0, "type": "quantitative", "scale": {"domain": [0, 19], "reverse": true}, "axis": null}, "y2": {"datum": 19}}},
        {"data": {"name": "hreo"}, "mark": {"type": "line", "color": "#80dc80", "strokeWidth": 2.5},
         "encoding": {"x": {"field": "Tb_Rec_ppm", "type": "quantitative", "scale": {"domain": [0, 24], "range": [6, 72], "clamp": true}},
                      "y": {"field": "mid", "type": "quantitative", "scale": {"domain": [0, 19], "reverse": true}, "axis": null},
                      "order": {"field": "mid", "type": "quantitative"}}},
        {"data": {"name": "hreo"}, "mark": {"type": "text", "font": "Liberation Sans", "fontSize": 10.5, "color": "#222", "baseline": "middle"},
         "encoding": {"x": {"datum": 12, "type": "quantitative", "scale": {"domain": [0, 24], "range": [6, 72], "clamp": true}},
                      "y": {"field": "mid", "type": "quantitative", "scale": {"domain": [0, 19], "reverse": true}, "axis": null}, "text": {"field": "Tb_Rec_ppm"}}},
        {"data": {"values": [{}]}, "mark": {"type": "text", "text": "■", "font": "DejaVu Sans", "fontSize": 10, "align": "left", "baseline": "middle", "color": "#90e490"},
         "encoding": {"x": {"datum": 0, "type": "quantitative", "scale": {"domain": [0, 24], "range": [6, 72], "clamp": true}},
                      "y": {"datum": -1.13, "type": "quantitative", "scale": {"domain": [0, 19], "reverse": true}, "axis": null}}}
      ]
    },
    {
      "width": 73, "height": 471,
      "layer": [
        {"data": {"values": [{}]}, "mark": {"type": "rule", "color": "#d6d6d6"},
         "encoding": {"x": {"datum": 200, "type": "quantitative", "scale": {"domain": [0, 200], "range": [7, 73]},
                            "axis": {"orient": "top", "offset": 14, "values": [0, 200], "format": "d", "grid": false, "title": "Dy2O3_ppm", "titleX": 18, "titleY": -14}},
                      "y": {"datum": 0, "type": "quantitative", "scale": {"domain": [0, 19], "reverse": true}, "axis": null}, "y2": {"datum": 19}}},
        {"data": {"name": "hreo"}, "mark": {"type": "rect", "color": "#86f9cc"},
         "encoding": {"x": {"field": "Dy2O3_ppm", "type": "quantitative", "scale": {"domain": [0, 200], "range": [7, 73]}}, "x2": {"datum": 0},
                      "y": {"field": "from", "type": "quantitative", "scale": {"domain": [0, 19], "reverse": true}, "axis": null}, "y2": {"field": "to"}}},
        {"data": {"name": "hreo"}, "mark": {"type": "text", "font": "Liberation Sans", "fontSize": 10.5, "color": "#222", "baseline": "middle"},
         "encoding": {"x": {"datum": 100, "type": "quantitative", "scale": {"domain": [0, 200], "range": [7, 73]}},
                      "y": {"field": "mid", "type": "quantitative", "scale": {"domain": [0, 19], "reverse": true}, "axis": null}, "text": {"field": "Dy2O3_ppm"}}},
        {"data": {"values": [{}]}, "mark": {"type": "text", "text": "■", "font": "DejaVu Sans", "fontSize": 10, "align": "left", "baseline": "middle", "color": "#86f9cc"},
         "encoding": {"x": {"datum": 0, "type": "quantitative", "scale": {"domain": [0, 200], "range": [7, 73]}},
                      "y": {"datum": -1.13, "type": "quantitative", "scale": {"domain": [0, 19], "reverse": true}, "axis": null}}}
      ]
    },
    {
      "width": 74, "height": 471,
      "layer": [
        {"data": {"values": [{}]}, "mark": {"type": "rule", "color": "#d6d6d6"},
         "encoding": {"x": {"datum": 154, "type": "quantitative", "scale": {"domain": [0, 154], "range": [7, 74], "clamp": true},
                            "axis": {"orient": "top", "offset": 14, "values": [0, 154], "format": "d", "grid": false, "title": "Dy_Rec_ppm", "titleX": 18, "titleY": -14}},
                      "y": {"datum": 0, "type": "quantitative", "scale": {"domain": [0, 19], "reverse": true}, "axis": null}, "y2": {"datum": 19}}},
        {"data": {"name": "hreo"}, "mark": {"type": "line", "color": "#74eec4", "strokeWidth": 2.5},
         "encoding": {"x": {"field": "Dy_Rec_ppm", "type": "quantitative", "scale": {"domain": [0, 154], "range": [7, 74], "clamp": true}},
                      "y": {"field": "mid", "type": "quantitative", "scale": {"domain": [0, 19], "reverse": true}, "axis": null},
                      "order": {"field": "mid", "type": "quantitative"}}},
        {"data": {"name": "hreo"}, "mark": {"type": "text", "font": "Liberation Sans", "fontSize": 10.5, "color": "#222", "baseline": "middle"},
         "encoding": {"x": {"datum": 77, "type": "quantitative", "scale": {"domain": [0, 154], "range": [7, 74], "clamp": true}},
                      "y": {"field": "mid", "type": "quantitative", "scale": {"domain": [0, 19], "reverse": true}, "axis": null}, "text": {"field": "Dy_Rec_ppm"}}},
        {"data": {"values": [{}]}, "mark": {"type": "text", "text": "■", "font": "DejaVu Sans", "fontSize": 10, "align": "left", "baseline": "middle", "color": "#86f9cc"},
         "encoding": {"x": {"datum": 0, "type": "quantitative", "scale": {"domain": [0, 154], "range": [7, 74], "clamp": true}},
                      "y": {"datum": -1.13, "type": "quantitative", "scale": {"domain": [0, 19], "reverse": true}, "axis": null}}}
      ]
    }
  ]
}
